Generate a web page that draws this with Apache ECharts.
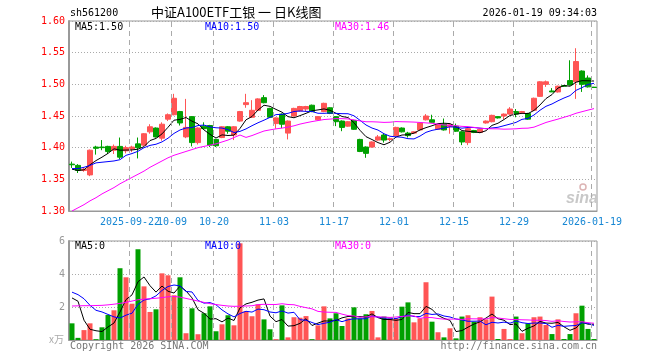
<!DOCTYPE html>
<html><head><meta charset="utf-8">
<script src="https://cdn.jsdelivr.net/npm/echarts@6/dist/echarts.min.js"></script>
<style>html,body{margin:0;padding:0;background:#fff}#c{width:660px;height:360px}</style>
</head><body><div id="c"></div>
<script>
const dates = [
'2025-09-08','2025-09-09','2025-09-10','2025-09-11','2025-09-12','2025-09-15','2025-09-16','2025-09-17','2025-09-18','2025-09-19',
'2025-09-22','2025-09-23','2025-09-24','2025-09-25','2025-09-26','2025-09-29','2025-09-30','2025-10-09','2025-10-10','2025-10-13',
'2025-10-14','2025-10-15','2025-10-16','2025-10-17','2025-10-20','2025-10-21','2025-10-22','2025-10-23','2025-10-24','2025-10-27',
'2025-10-28','2025-10-29','2025-10-30','2025-10-31','2025-11-03','2025-11-04','2025-11-05','2025-11-06','2025-11-07','2025-11-10',
'2025-11-11','2025-11-12','2025-11-13','2025-11-14','2025-11-17','2025-11-18','2025-11-19','2025-11-20','2025-11-21','2025-11-24',
'2025-11-25','2025-11-26','2025-11-27','2025-11-28','2025-12-01','2025-12-02','2025-12-03','2025-12-04','2025-12-05','2025-12-08',
'2025-12-09','2025-12-10','2025-12-11','2025-12-12','2025-12-15','2025-12-16','2025-12-17','2025-12-18','2025-12-19','2025-12-22',
'2025-12-23','2025-12-24','2025-12-25','2025-12-26','2025-12-29','2025-12-30','2025-12-31','2026-01-05','2026-01-06','2026-01-07',
'2026-01-08','2026-01-09','2026-01-12','2026-01-13','2026-01-14','2026-01-15','2026-01-16','2026-01-19'];

const open = [1.374,1.372,1.364,1.357,1.401,1.401,1.402,1.396,1.402,1.395,
1.398,1.406,1.404,1.425,1.431,1.415,1.445,1.452,1.457,1.417,
1.449,1.408,1.434,1.435,1.413,1.416,1.433,1.420,1.442,1.468,
1.448,1.459,1.479,1.462,1.438,1.453,1.423,1.450,1.458,1.461,
1.467,1.444,1.457,1.463,1.449,1.442,1.434,1.443,1.413,1.401,
1.401,1.412,1.420,1.413,1.419,1.431,1.423,1.423,1.428,1.444,
1.444,1.429,1.437,1.433,1.434,1.425,1.408,1.427,1.424,1.439,
1.441,1.449,1.450,1.453,1.457,1.455,1.454,1.459,1.481,1.500,
1.4895,1.488,1.498,1.506,1.504,1.521,1.510,1.4955];

const close = [1.373,1.364,1.366,1.396,1.399,1.400,1.394,1.402,1.385,1.400,
1.401,1.400,1.422,1.433,1.417,1.437,1.452,1.478,1.439,1.432,
1.408,1.431,1.430,1.404,1.403,1.433,1.426,1.433,1.457,1.471,
1.459,1.477,1.471,1.448,1.447,1.437,1.442,1.462,1.465,1.465,
1.457,1.449,1.470,1.454,1.441,1.432,1.441,1.429,1.394,1.391,
1.409,1.417,1.412,1.414,1.432,1.425,1.419,1.425,1.439,1.450,
1.440,1.436,1.428,1.436,1.426,1.409,1.430,1.424,1.429,1.442,
1.451,1.447,1.453,1.461,1.453,1.457,1.445,1.478,1.504,1.504,
1.488,1.497,1.497,1.499,1.536,1.500,1.496,1.495];

const low = [1.368,1.360,1.362,1.355,1.389,1.396,1.390,1.390,1.382,1.391,
1.393,1.383,1.403,1.422,1.416,1.411,1.442,1.451,1.435,1.415,
1.402,1.405,1.428,1.401,1.401,1.415,1.422,1.412,1.441,1.463,
1.447,1.458,1.470,1.447,1.430,1.431,1.413,1.449,1.457,1.457,
1.456,1.443,1.456,1.453,1.434,1.426,1.433,1.428,1.393,1.384,
1.400,1.411,1.408,1.410,1.418,1.424,1.416,1.422,1.427,1.443,
1.439,1.428,1.427,1.422,1.425,1.404,1.404,1.423,1.423,1.438,
1.440,1.446,1.445,1.452,1.448,1.454,1.444,1.458,1.480,1.496,
1.488,1.487,1.496,1.498,1.477,1.488,1.495,1.495];

const high = [1.378,1.374,1.368,1.397,1.403,1.412,1.403,1.405,1.416,1.403,
1.403,1.416,1.423,1.437,1.432,1.440,1.454,1.485,1.458,1.477,
1.450,1.432,1.440,1.436,1.414,1.434,1.434,1.434,1.458,1.485,
1.475,1.478,1.483,1.463,1.448,1.454,1.443,1.463,1.466,1.466,
1.468,1.450,1.471,1.464,1.450,1.443,1.442,1.444,1.414,1.402,
1.410,1.420,1.423,1.416,1.433,1.432,1.425,1.426,1.440,1.453,
1.452,1.437,1.446,1.437,1.438,1.426,1.433,1.428,1.430,1.443,
1.452,1.450,1.454,1.464,1.461,1.458,1.455,1.479,1.505,1.506,
1.494,1.498,1.499,1.538,1.557,1.522,1.514,1.496];

// volume in 万 (x10k)
const volume = [1.01,0.13,0.60,1.01,0.05,0.77,1.52,1.80,4.35,3.80,
2.20,5.50,3.25,1.70,1.86,4.04,3.92,2.71,3.80,0.41,
1.92,0.35,1.62,2.04,0.53,0.95,1.50,0.89,5.86,1.74,
1.44,2.16,1.25,0.65,0.05,2.10,0.16,1.38,1.35,1.45,
0.05,0.89,2.04,1.31,1.62,0.85,1.31,1.98,1.31,1.56,
1.76,0.16,1.42,1.31,1.31,2.02,2.28,1.07,1.31,3.50,
1.11,0.47,0.16,0.71,0.10,1.42,1.50,1.11,1.38,1.25,
2.63,0.06,0.67,0.06,1.42,0.41,1.01,1.38,1.42,0.91,
0.36,1.25,0.06,0.36,1.62,2.08,0.67,0.06];

// moving-average values for the first days (need earlier history)
const priceMA5Head  = [1.366,1.364,1.365,1.373];
const priceMA10Head = [1.367,1.367,1.369,1.372,1.376,1.377,1.378,1.379,1.381];
const priceMA30Head = [1.300,1.305,1.310,1.316,1.321,1.327,1.332,1.337,1.343,1.348,1.353,1.358,1.363,1.369,1.374,
                       1.379,1.384,1.388,1.391,1.394,1.397,1.400,1.402,1.404,1.406,1.409,1.412,1.416,1.420];
const volMA5Head  = [2.55,2.35,1.20,0.65];
const volMA10Head = [2.90,2.75,2.50,2.10,1.80,1.70,1.55,1.40,1.33];
const volMA30Head = [2.06,2.07,2.08,2.08,2.09,2.10,2.13,2.17,2.22,2.28,2.36,2.44,2.48,2.50,2.53,
                     2.57,2.62,2.64,2.60,2.52,2.44,2.36,2.28,2.20,2.15,2.10,2.06,2.04,2.05];

const tickDates  = ['2025-09-22','2025-10-09','2025-10-20','2025-11-03','2025-11-17','2025-12-01','2025-12-15','2025-12-29','2026-01-19'];
const tickLabels = ['2025-09-22','10-09','10-20','11-03','11-17','12-01','12-15','12-29','2026-01-19'];
const priceRange = [1.30, 1.60];
const volRange = [0, 6];

const headerCode = 'sh561200';
const headerTitle = '中证A100ETF工银 一 日K线图';
const headerTime = '2026-01-19 09:34:03';
const priceMALabels = ['MA5:1.50','MA10:1.50','MA30:1.46'];
const volMALabels = ['MA5:0','MA10:0','MA30:0'];

function ma(src, n, head) {
  return src.map((v, i) => {
    if (i < head.length) return head[i];
    let s = 0; for (let k = i - n + 1; k <= i; k++) s += src[k];
    return +(s / n).toFixed(4);
  });
}

const UP = '#FF5555', DOWN = '#00A000';
const kData = dates.map((d, i) => [open[i], close[i], low[i], high[i]]);
const volData = volume.map((v, i) => ({ value: v, itemStyle: { color: close[i] >= open[i] ? UP : DOWN } }));

const MONO = '"DejaVu Sans Mono", monospace';
const firstTick = dates.indexOf(tickDates[0]);
const labelAt = (v) => tickLabels[tickDates.indexOf(v)];

const chart = echarts.init(document.getElementById('c'), null, { renderer: 'canvas' });
const gridBase = () => ({ left: 69, width: 528, show: true, backgroundColor: 'rgba(0,0,0,0)', borderColor: '#999', borderWidth: 1 });
const labelBase = () => ({ show: true, color: '#1787D4', fontFamily: MONO, fontSize: 10, margin: 6,
  padding: [0, 4, 0, 0], hideOverlap: false, formatter: labelAt });

const textGraphics = [
  { type: 'text', left: 70, top: 8, style: { text: headerCode, font: '10px ' + MONO, fill: '#000' } },
  { type: 'text', left: 151, top: 6, style: { text: headerTitle, font: '13px "Noto Sans CJK SC"', fill: '#000' } },
  { type: 'text', right: 63, top: 8, style: { text: headerTime, font: '10px ' + MONO, fill: '#000' } },
  { type: 'text', left: 75, top: 22, z: 200, style: { text: priceMALabels[0], font: '10px ' + MONO, fill: '#000' } },
  { type: 'text', left: 205, top: 22, z: 200, style: { text: priceMALabels[1], font: '10px ' + MONO, fill: '#0000FF' } },
  { type: 'text', left: 335, top: 22, z: 200, style: { text: priceMALabels[2], font: '10px ' + MONO, fill: '#FF00FF' } },
  { type: 'text', left: 75, top: 241, z: 200, style: { text: volMALabels[0], font: '10px ' + MONO, fill: '#000' } },
  { type: 'text', left: 205, top: 241, z: 200, style: { text: volMALabels[1], font: '10px ' + MONO, fill: '#0000FF' } },
  { type: 'text', left: 335, top: 241, z: 200, style: { text: volMALabels[2], font: '10px ' + MONO, fill: '#FF00FF' } },
  { type: 'text', left: 49, top: 334, style: { text: 'x万', font: '10px "Noto Sans CJK SC"', fill: '#aaa' } },
  { type: 'text', left: 70, top: 341, style: { text: 'Copyright 2026 SINA.COM', font: '10px ' + MONO, fill: '#777' } },
  { type: 'text', right: 63, top: 341, style: { text: 'http://finance.sina.com.cn', font: '10px ' + MONO, fill: '#777' } },
  { type: 'text', left: 566, top: 191, style: { text: 'sina', font: 'italic bold 16px "Liberation Sans"', fill: '#c8c8c8' } },
  { type: 'circle', shape: { cx: 583, cy: 187, r: 3 }, style: { fill: 'none', stroke: '#dcb4b4', lineWidth: 1.5 } }
];

chart.setOption({
  animation: false,
  backgroundColor: '#fff',
  grid: [
    Object.assign({ top: 21, height: 190 }, gridBase()),
    Object.assign({ top: 241, height: 99 }, gridBase())
  ],
  xAxis: [
    { type: 'category', gridIndex: 0, data: dates, boundaryGap: true,
      axisLine: { show: true, lineStyle: { color: '#999', width: 1 } },
      axisTick: { show: false },
      axisLabel: Object.assign(labelBase(), { interval: (i) => i !== firstTick && tickDates.indexOf(dates[i]) >= 0 }),
      splitLine: { show: false } },
    { type: 'category', gridIndex: 1, data: dates, boundaryGap: true,
      axisLine: { show: true, lineStyle: { color: '#999', width: 1 } },
      axisTick: { show: false }, axisLabel: { show: false }, splitLine: { show: false } },
    { type: 'category', gridIndex: 0, data: dates, boundaryGap: true, position: 'bottom',
      axisLine: { show: false }, axisTick: { show: false }, splitLine: { show: false },
      axisLabel: Object.assign(labelBase(), { interval: (i) => i === firstTick }) }
  ],
  yAxis: [
    { type: 'value', gridIndex: 0, min: priceRange[0], max: priceRange[1], interval: 0.05, position: 'left',
      axisLine: { show: true, lineStyle: { color: '#999', width: 2 } },
      axisTick: { show: false },
      axisLabel: { color: '#FF0000', fontFamily: MONO, fontSize: 10, margin: 4, formatter: (v) => v.toFixed(2) },
      splitLine: { show: true, lineStyle: { color: '#aaa', type: [1, 2] } } },
    { type: 'value', gridIndex: 1, min: volRange[0], max: volRange[1], interval: 2, position: 'left',
      axisLine: { show: true, lineStyle: { color: '#999', width: 2 } },
      axisTick: { show: false },
      axisLabel: { color: '#999', fontFamily: MONO, fontSize: 10, margin: 4, formatter: (v) => v === 0 ? '' : String(v) },
      splitLine: { show: true, lineStyle: { color: '#aaa', type: [1, 2] } } }
  ],
  series: [
    { type: 'candlestick', xAxisIndex: 0, yAxisIndex: 0, data: kData, barWidth: 5,
      itemStyle: { color: UP, color0: DOWN, borderColor: UP, borderColor0: DOWN, borderWidth: 1 } },
    { type: 'line', xAxisIndex: 0, yAxisIndex: 0, data: ma(close, 5, priceMA5Head), symbol: 'none', lineStyle: { color: '#000', width: 1 } },
    { type: 'line', xAxisIndex: 0, yAxisIndex: 0, data: ma(close, 10, priceMA10Head), symbol: 'none', lineStyle: { color: '#0000FF', width: 1 } },
    { type: 'line', xAxisIndex: 0, yAxisIndex: 0, data: ma(close, 30, priceMA30Head), symbol: 'none', lineStyle: { color: '#FF00FF', width: 1 } },
    { type: 'bar', xAxisIndex: 1, yAxisIndex: 1, data: volData, barWidth: 5 },
    { type: 'line', xAxisIndex: 1, yAxisIndex: 1, data: ma(volume, 5, volMA5Head), symbol: 'none', lineStyle: { color: '#000', width: 1 } },
    { type: 'line', xAxisIndex: 1, yAxisIndex: 1, data: ma(volume, 10, volMA10Head), symbol: 'none', lineStyle: { color: '#0000FF', width: 1 } },
    { type: 'line', xAxisIndex: 1, yAxisIndex: 1, data: ma(volume, 30, volMA30Head), symbol: 'none', lineStyle: { color: '#FF00FF', width: 1 } }
  ],
  graphic: textGraphics
});

// vertical dashed grid lines at the labelled dates (band boundary just left of each candle),
// positioned through the chart's own category scale; each dash is a 1px filled rect.
function px(v) { return Array.isArray(v) ? v[0] : v; }
const gridDashes = [];
tickDates.forEach((d) => {
  let c = px(chart.convertToPixel({ xAxisIndex: 0 }, d));
  if (!isFinite(c)) c = px(chart.convertToPixel({ xAxisIndex: 0 }, dates.indexOf(d)));
  const xLeft = Math.round(c) - 3;
  [[0, priceRange], [1, volRange]].forEach(([yi, r]) => {
    let yTop = chart.convertToPixel({ yAxisIndex: yi }, r[1]);
    let yBot = chart.convertToPixel({ yAxisIndex: yi }, r[0]);
    yTop = Math.round(Array.isArray(yTop) ? yTop[1] : yTop);
    yBot = Math.round(Array.isArray(yBot) ? yBot[1] : yBot);
    for (let y = yTop + 1; y < yBot; y += 9) {
      gridDashes.push({ type: 'rect', z: 100, zlevel: 0, silent: true,
        shape: { x: xLeft, y: y, width: 1, height: Math.min(5, yBot - y) },
        style: { fill: '#aaa' } });
    }
  });
});
chart.setOption({ graphic: { elements: textGraphics.concat(gridDashes) } });
</script></body></html>
